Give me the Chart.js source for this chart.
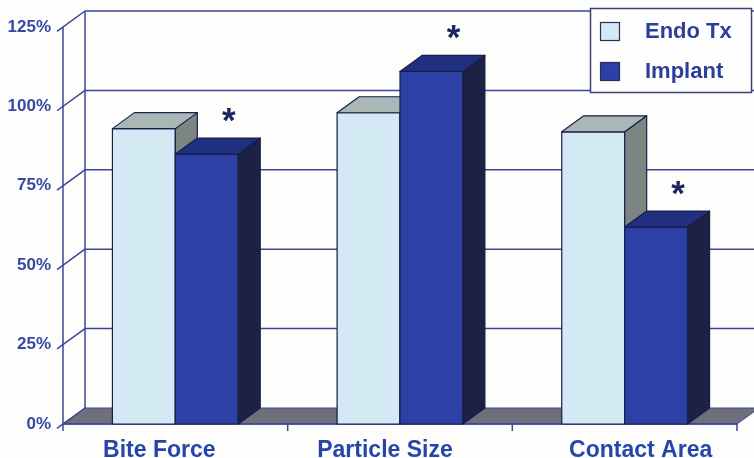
<!DOCTYPE html>
<html>
<head>
<meta charset="utf-8">
<script src="https://cdn.jsdelivr.net/npm/chart.js@4/dist/chart.umd.min.js"></script>
<style>
  html, body { margin: 0; padding: 0; background: #fdfdfb; }
  #wrap { width: 754px; height: 458px; }
</style>
</head>
<body>
<div id="wrap"><canvas id="chart" width="754" height="458"></canvas></div>
<script>
// Chewing performance relative to a natural tooth reference
const categories = ['Bite Force', 'Particle Size', 'Contact Area'];
const endoTx = [93, 98, 92];
const implant = [85, 111, 62];
const implantSignificant = [true, true, true];
const yTicks = [0, 25, 50, 75, 100, 125];
const seriesNames = ['Endo Tx', 'Implant'];

const FONT = "'Liberation Sans', Arial, sans-serif";
const DEPTH_X = 22, DEPTH_Y = -16;
const GRID = '#3a4697';
const EDGE = '#1a1f48';
// horizontal nudge of each category caption (px)
const CAPTION_SHIFT = [-16, -15, 16];
const faces = [
  { front: '#d3eaf5', top: '#a9b7b7', side: '#7b8581' },
  { front: '#2c40a5', top: '#202f7e', side: '#1d2145' }
];

function poly(ctx, pts, fill, stroke) {
  ctx.beginPath();
  ctx.moveTo(pts[0][0], pts[0][1]);
  for (let i = 1; i < pts.length; i++) ctx.lineTo(pts[i][0], pts[i][1]);
  ctx.closePath();
  if (fill) { ctx.fillStyle = fill; ctx.fill(); }
  if (stroke) { ctx.strokeStyle = stroke; ctx.stroke(); }
}

// Walls, floor and axes of the 3D box
const frame3d = {
  id: 'frame3d',
  beforeDatasetsDraw(chart) {
    const { ctx, chartArea: a, scales: { y } } = chart;
    const W = chart.width;
    ctx.save();
    ctx.strokeStyle = GRID;
    const y0 = y.getPixelForValue(0);
    const yTop = y.getPixelForValue(yTicks[yTicks.length - 1]);
    // floor
    ctx.lineWidth = 1;
    poly(ctx, [[a.left, y0], [a.right, y0], [a.right + DEPTH_X, y0 + DEPTH_Y], [a.left + DEPTH_X, y0 + DEPTH_Y]], '#6e6f7a', GRID);
    ctx.lineWidth = 1.5;
    // back wall and side wall gridlines
    yTicks.forEach(v => {
      const py = y.getPixelForValue(v);
      ctx.beginPath();
      if (v !== 0) {
        ctx.moveTo(a.left + DEPTH_X, py + DEPTH_Y);
        ctx.lineTo(W, py + DEPTH_Y);
      }
      ctx.moveTo(a.left - 6, py + 6 * (-DEPTH_Y / DEPTH_X));
      ctx.lineTo(a.left + DEPTH_X, py + DEPTH_Y);
      ctx.stroke();
    });
    // back vertical edge
    ctx.beginPath();
    ctx.moveTo(a.left + DEPTH_X, yTop + DEPTH_Y);
    ctx.lineTo(a.left + DEPTH_X, y0 + DEPTH_Y);
    ctx.stroke();
    // front vertical axis
    ctx.beginPath();
    ctx.moveTo(a.left, yTop);
    ctx.lineTo(a.left, y0);
    ctx.stroke();
    // front baseline with category ticks
    ctx.beginPath();
    ctx.moveTo(a.left, y0);
    ctx.lineTo(a.right, y0);
    const n = categories.length;
    for (let i = 0; i <= n; i++) {
      const px = a.left + (a.right - a.left) * i / n;
      ctx.moveTo(px, y0);
      ctx.lineTo(px, y0 + 7);
    }
    ctx.stroke();
    ctx.restore();
  },
  afterDatasetsDraw(chart) {
    const { ctx } = chart;
    const metas = chart.data.datasets.map((d, i) => chart.getDatasetMeta(i));
    ctx.save();
    ctx.lineWidth = 1.2;
    ctx.lineJoin = 'round';
    categories.forEach((c, ci) => {
      metas.forEach((meta, di) => {
        const bar = meta.data[ci];
        const p = bar.getProps(['x', 'y', 'width', 'base'], true);
        const l = p.x - p.width / 2, r = p.x + p.width / 2;
        const t = p.y, b = p.base;
        const f = faces[di];
        poly(ctx, [[l, t], [r, t], [r, b], [l, b]], f.front, EDGE);
        poly(ctx, [[r, t], [r + DEPTH_X, t + DEPTH_Y], [r + DEPTH_X, b + DEPTH_Y], [r, b]], f.side, EDGE);
        poly(ctx, [[l, t], [r, t], [r + DEPTH_X, t + DEPTH_Y], [l + DEPTH_X, t + DEPTH_Y]], f.top, EDGE);
      });
    });
    // significance markers above the Implant bars
    ctx.font = 'bold 35px ' + FONT;
    ctx.fillStyle = '#1e2660';
    ctx.textAlign = 'center';
    ctx.textBaseline = 'alphabetic';
    const m = ctx.measureText('*');
    const mid = (m.actualBoundingBoxAscent - m.actualBoundingBoxDescent) / 2;
    metas[1].data.forEach((bar, i) => {
      if (!implantSignificant[i]) return;
      ctx.fillText('*', bar.x + DEPTH_X, bar.y - 39 + mid);
    });
    ctx.restore();
  },
  afterDraw(chart) {
    const { ctx, scales: { x, y } } = chart;
    ctx.save();
    // category captions
    ctx.font = 'bold 23px ' + FONT;
    ctx.fillStyle = '#2545a8';
    ctx.textAlign = 'center';
    ctx.textBaseline = 'middle';
    const y0 = y.getPixelForValue(0);
    categories.forEach((c, i) => {
      ctx.fillText(c, x.getPixelForValue(i) + CAPTION_SHIFT[i], y0 + 27);
    });
    // legend box
    ctx.fillStyle = '#fefefe';
    ctx.strokeStyle = '#3a4070';
    ctx.lineWidth = 1.5;
    ctx.fillRect(590.5, 8.5, 161, 84);
    ctx.strokeRect(590.5, 8.5, 161, 84);
    const rows = [31, 71];
    ctx.font = 'bold 22px ' + FONT;
    ctx.textAlign = 'left';
    ctx.textBaseline = 'middle';
    seriesNames.forEach((name, i) => {
      ctx.lineWidth = 1.2;
      ctx.fillStyle = faces[i].front;
      ctx.fillRect(600.5, rows[i] - 8.5, 19, 18);
      ctx.strokeStyle = '#2a2f55';
      ctx.strokeRect(600.5, rows[i] - 8.5, 19, 18);
      ctx.fillStyle = '#2a3e9c';
      ctx.fillText(name, 645, rows[i] + 1);
    });
    ctx.restore();
  }
};

new Chart(document.getElementById('chart'), {
  type: 'bar',
  data: {
    labels: categories,
    datasets: [
      { label: seriesNames[0], data: endoTx, backgroundColor: faces[0].front, borderColor: EDGE, borderWidth: 1 },
      { label: seriesNames[1], data: implant, backgroundColor: faces[1].front, borderColor: EDGE, borderWidth: 1 }
    ]
  },
  options: {
    responsive: false,
    animation: false,
    devicePixelRatio: 1,
    layout: { padding: { top: 27, right: 17, left: 0, bottom: 0 } },
    datasets: { bar: { categoryPercentage: 0.56, barPercentage: 1.0 } },
    plugins: { legend: { display: false }, tooltip: { enabled: false } },
    scales: {
      x: {
        offset: true,
        grid: { display: false, drawTicks: false },
        border: { display: false },
        ticks: { display: false },
        afterFit: s => { s.height = 34; }
      },
      y: {
        min: 0,
        max: 125,
        grid: { display: false, drawTicks: false },
        border: { display: false },
        afterBuildTicks: s => { s.ticks = yTicks.map(v => ({ value: v })); },
        ticks: {
          color: '#3548a2',
          font: { family: FONT, size: 17, weight: 'bold' },
          padding: 12,
          callback: v => v + '%'
        },
        afterFit: s => { s.width = 63; }
      }
    }
  },
  plugins: [frame3d]
});
</script>
</body>
</html>
